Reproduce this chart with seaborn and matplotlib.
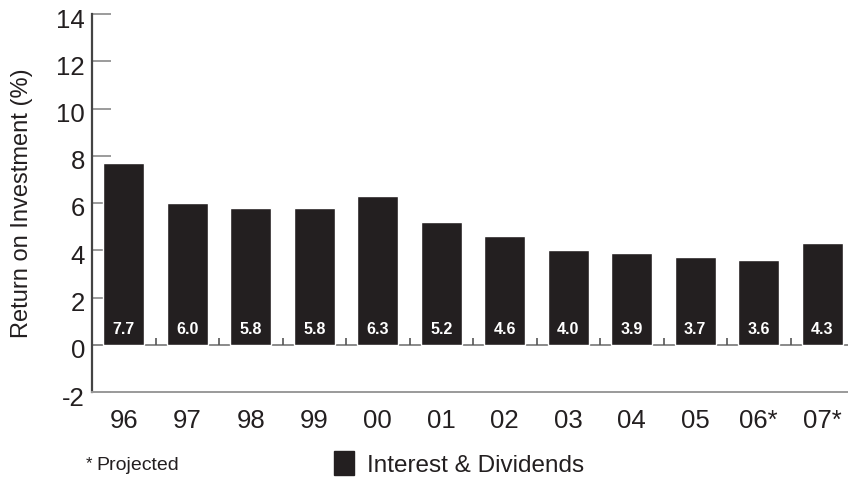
import matplotlib
matplotlib.use("Agg")
import matplotlib.pyplot as plt
import matplotlib.transforms as mtransforms
from matplotlib.patches import Patch
import seaborn as sns
import pandas as pd

years = ["96", "97", "98", "99", "00", "01", "02", "03", "04", "05", "06*", "07*"]
returns = [7.7, 6.0, 5.8, 5.8, 6.3, 5.2, 4.6, 4.0, 3.9, 3.7, 3.6, 4.3]
y_ticks = [-2, 0, 2, 4, 6, 8, 10, 12, 14]

BAR = "#231f20"
GRID = "#8a8a8a"

sns.set_theme(style="white")
plt.rcParams["font.family"] = ["Liberation Sans", "DejaVu Sans"]

df = pd.DataFrame({"year": years, "ret": returns})

fig = plt.figure(figsize=(8.48, 4.8), dpi=100)
ax = fig.add_axes([92 / 848, 88 / 480, 762 / 848, 378 / 480])

sns.barplot(data=df, x="year", y="ret", color=BAR, saturation=1, width=0.65,
            ax=ax, zorder=3)

ax.set_ylim(-2, 14)
ax.set_xlim(-0.5, len(years) - 0.5)
ax.set_yticks(y_ticks)
ax.set_yticklabels([str(t) for t in y_ticks])
ax.set_xlabel("")
ax.set_ylabel("")

for s in ["top", "right"]:
    ax.spines[s].set_visible(False)
ax.spines["left"].set_color("#444444")
ax.spines["left"].set_linewidth(1.6)
ax.spines["bottom"].set_color("#9a9a9a")
ax.spines["bottom"].set_linewidth(1.4)

ax.tick_params(axis="y", direction="in", length=14, width=1.2, color=GRID,
               labelsize=18.5, labelcolor=BAR, pad=5, left=True)
ax.tick_params(axis="x", length=0, labelsize=18.5, labelcolor=BAR, pad=12)

# y tick labels sit slightly below their ticks
shift = mtransforms.ScaledTranslation(0, -4 / 100, fig.dpi_scale_trans)
for lbl in ax.get_yticklabels():
    lbl.set_transform(lbl.get_transform() + shift)

# zero line and small separators between categories
ax.axhline(0, color=GRID, lw=1.4, zorder=2)
seps = [i + 0.5 for i in range(len(years) - 1)]
ax.vlines(seps, 0, 0.3, color="#555555", lw=1.2, zorder=2)

# value labels inside the bars
for i, v in enumerate(returns):
    ax.text(i, 0.65, f"{v:.1f}", color="white", fontsize=11.5, fontweight="bold",
            ha="center", va="center", zorder=4)

fig.text(22 / 848, 1 - 203 / 480, "Return on Investment (%)", rotation=90,
         ha="center", va="center", fontsize=17, color=BAR)

fig.text(86 / 848, 1 - 463.5 / 480, "*", ha="left", va="center",
         fontsize=12, color=BAR)
fig.text(96 / 848, 1 - 466 / 480, "Projected", ha="left", va="center",
         fontsize=14, color=BAR)

fig.legend(handles=[Patch(facecolor=BAR, edgecolor=BAR, label="Interest & Dividends")],
           loc="center left", bbox_to_anchor=(322 / 848, 1 - 464 / 480),
           frameon=False, fontsize=17.5, handlelength=0.82, handleheight=1.15,
           handletextpad=0.55, borderpad=0, labelcolor=BAR)

fig.savefig("out.png", dpi=100)
